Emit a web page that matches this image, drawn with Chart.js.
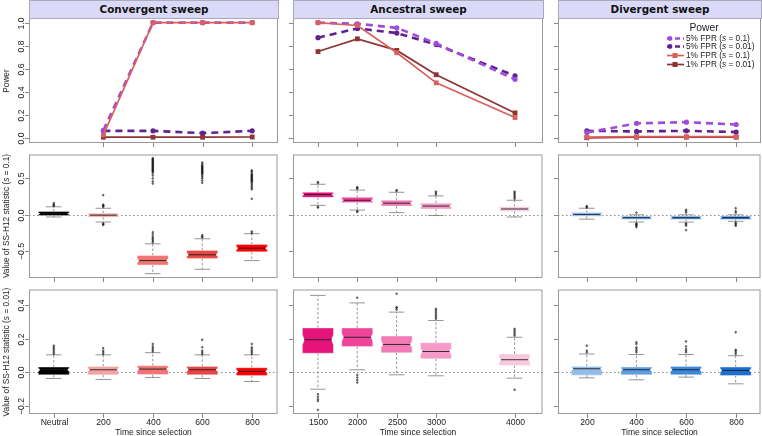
<!DOCTYPE html>
<html><head><meta charset="utf-8">
<script src="https://cdn.jsdelivr.net/npm/chart.js@4/dist/chart.umd.min.js"></script>
<style>
html,body{margin:0;padding:0;background:#fff;width:762px;height:436px;overflow:hidden;position:relative;font-family:"Liberation Sans",Arial,sans-serif;color:#222}
canvas{position:absolute}
.strip{position:absolute;top:0;height:19px;background:#DADAF8;border:1px solid #a9a9b8;box-sizing:border-box;font:bold 10.4px "DejaVu Sans",sans-serif;text-align:center;line-height:17px;color:#111}
.rot{position:absolute;white-space:nowrap;font-size:8.3px;line-height:1;transform:translate(-50%,-50%) rotate(-90deg);color:#222}
.xt{position:absolute;white-space:nowrap;font-size:8.5px;line-height:1;transform:translate(-50%,-50%);color:#222}
.lg{position:absolute;white-space:nowrap;font-size:8.3px;line-height:1;color:#222}
.lg svg{position:absolute;left:0;top:-4px}
</style>
</head><body>
<script>
// ================= DATA =================
const panelTitles = ['Convergent sweep', 'Ancestral sweep', 'Divergent sweep'];
const convCategories = ['Neutral', '200', '400', '600', '800'];
const ancTimes = [1500, 2000, 2500, 3000, 4000];
const divCategories = ['200', '400', '600', '800'];
const xAxisTitle = 'Time since selection';
const yTitles = ['Power', 'Value of SS-H12 statistic (<i>s</i> = 0.1)', 'Value of SS-H12 statistic (<i>s</i> = 0.01)'];

const powerTicks = [0, 0.2, 0.4, 0.6, 0.8, 1.0];
const powerTickLabels = ['0.0', '0.2', '0.4', '0.6', '0.8', '1.0'];
const s01Ticks = [-0.5, 0, 0.5];
const s01TickLabels = ['\u22120.5', '0.0', '0.5'];
const s001Ticks = [-0.2, 0, 0.2, 0.4];
const s001TickLabels = ['\u22120.2', '0.0', '0.2', '0.4'];

const seriesNames = ['5% FPR (s = 0.1)', '5% FPR (s = 0.01)', '1% FPR (s = 0.1)', '1% FPR (s = 0.01)'];

// Power (top row)
const convPow5s01  = [null, 0.07, 1.00, 1.00, 1.00];
const convPow5s001 = [null, 0.065, 0.065, 0.045, 0.065];
const convPow1s01  = [null, 0.03, 1.00, 1.00, 1.00];
const convPow1s001 = [null, 0.01, 0.01, 0.01, 0.012];

const ancPow5s01  = [1.00, 0.99, 0.955, 0.82, 0.51];
const ancPow5s001 = [0.87, 0.95, 0.91, 0.81, 0.54];
const ancPow1s01  = [1.00, 0.975, 0.74, 0.48, 0.18];
const ancPow1s001 = [0.75, 0.86, 0.76, 0.55, 0.22];

const divPow5s01  = [0.05, 0.13, 0.14, 0.12];
const divPow5s001 = [0.065, 0.06, 0.065, 0.055];
const divPow1s01  = [0.01, 0.015, 0.015, 0.015];
const divPow1s001 = [0.005, 0.01, 0.01, 0.01];

// Box statistics [lower whisker, Q1, median, Q3, upper whisker]
const convBoxS01 = [
  [-0.03, -0.01, 0.015, 0.045, 0.11],
  [-0.10, -0.03, -0.005, 0.02, 0.09],
  [-0.81, -0.69, -0.63, -0.56, -0.40],
  [-0.75, -0.60, -0.55, -0.49, -0.33],
  [-0.63, -0.51, -0.46, -0.41, -0.26]
];
const convOutS01 = [
  [0.12, 0.13, 0.14, 0.16],
  [0.11, 0.12, 0.13, 0.14, 0.27, -0.12, -0.13, -0.14],
  [0.43, 0.46, 0.50, 0.54, 0.57, 0.59, 0.60, 0.61, 0.62, 0.63, 0.64, 0.65, 0.66, 0.67, 0.68, 0.69, 0.70, 0.71, 0.72, 0.73, 0.74, 0.75, 0.76, 0.77, 0.78, -0.24, -0.27, -0.30, -0.32, -0.34, -0.36, -0.38],
  [0.44, 0.47, 0.50, 0.52, 0.54, 0.56, 0.57, 0.58, 0.59, 0.60, 0.61, 0.62, 0.63, 0.64, 0.65, 0.66, 0.67, 0.68, 0.70, 0.72, -0.28, -0.30, -0.31],
  [0.22, 0.35, 0.37, 0.39, 0.41, 0.43, 0.45, 0.46, 0.47, 0.48, 0.49, 0.50, 0.51, 0.52, 0.53, 0.54, 0.55, 0.56, 0.58, 0.60, 0.61, -0.23, -0.25]
];
const ancBoxS01 = [
  [0.13, 0.24, 0.28, 0.31, 0.42],
  [0.065, 0.17, 0.20, 0.24, 0.34],
  [0.03, 0.12, 0.16, 0.20, 0.31],
  [-0.01, 0.08, 0.12, 0.16, 0.26],
  [-0.03, 0.05, 0.08, 0.11, 0.20]
];
const ancOutS01 = [
  [0.44, 0.45, 0.11, 0.10],
  [0.36, 0.37, 0.38, 0.05, 0.04],
  [0.33, 0.34],
  [0.28, 0.30, 0.32],
  [0.22, 0.24, 0.26, 0.28, 0.30, 0.32]
];
const divBoxS01 = [
  [-0.06, -0.02, 0.005, 0.03, 0.09],
  [-0.10, -0.06, -0.04, -0.02, 0.0],
  [-0.10, -0.06, -0.04, -0.02, 0.0],
  [-0.09, -0.06, -0.04, -0.02, 0.0]
];
const divOutS01 = [
  [0.10, 0.11, 0.12],
  [0.03, -0.12, -0.13, -0.14, -0.15, -0.17],
  [0.03, 0.05, 0.07, -0.12, -0.13, -0.15, -0.21],
  [0.03, 0.05, 0.09, -0.11, -0.12, -0.14, -0.15]
];
const convBoxS001 = [
  [-0.036, -0.014, 0.016, 0.032, 0.105],
  [-0.042, -0.014, 0.016, 0.036, 0.105],
  [-0.030, -0.012, 0.020, 0.040, 0.118],
  [-0.036, -0.014, 0.016, 0.036, 0.105],
  [-0.054, -0.018, 0.006, 0.028, 0.105]
];
const convOutS001 = [
  [0.11, 0.12, 0.13, 0.14, 0.15, 0.16],
  [0.11, 0.12, 0.13, 0.145],
  [0.125, 0.135, 0.145, 0.155, 0.17],
  [0.11, 0.12, 0.13, 0.15, 0.195],
  [0.11, 0.12, 0.13, 0.14, 0.15, 0.17]
];
const ancBoxS001 = [
  [-0.10, 0.115, 0.195, 0.265, 0.46],
  [0.016, 0.155, 0.21, 0.265, 0.415],
  [-0.014, 0.118, 0.167, 0.217, 0.36],
  [-0.02, 0.082, 0.125, 0.177, 0.31],
  [-0.034, 0.042, 0.076, 0.11, 0.21]
];
const ancOutS001 = [
  [-0.13, -0.145, -0.16, -0.17, -0.223],
  [0.446, -0.015, -0.03, -0.045, -0.06],
  [0.375, 0.385, 0.39, 0.47],
  [0.32, 0.33, 0.34, 0.35, 0.36, 0.37, 0.38],
  [0.22, 0.23, 0.24, 0.25, 0.26, -0.103]
];
const divBoxS001 = [
  [-0.032, -0.016, 0.022, 0.036, 0.11],
  [-0.044, -0.014, 0.016, 0.032, 0.107],
  [-0.028, -0.014, 0.016, 0.036, 0.107],
  [-0.068, -0.018, 0.012, 0.032, 0.10]
];
const divOutS001 = [
  [0.12, 0.13, 0.16],
  [0.12, 0.13, 0.14, 0.15, 0.17, 0.18],
  [0.12, 0.13, 0.14, 0.155, 0.185],
  [0.11, 0.12, 0.13, 0.135, 0.24]
];
const nSims = 60; // sample size used for notch width

// ================= STYLE / LAYOUT =================
const convColors = ['#000000', '#F4A3A3', '#F07575', '#E84545', '#FF0000'];
const ancColors = ['#E5137B', '#EF4499', '#F27BB6', '#F59BC8', '#F9C8DF'];
const divColors = ['#92BDEB', '#5E9DE3', '#3C88DD', '#1A6FD2'];
const seriesStyles = [
  {color: '#A04BDB', dash: [7, 5], point: 'circle', width: 2.6, radius: 2.6, order: 1},
  {color: '#5E2390', dash: [7, 5], point: 'circle', width: 2.6, radius: 2.6, order: 1},
  {color: '#D9605C', dash: [], point: 'rect', width: 1.7, radius: 3.4, order: 0},
  {color: '#8E3434', dash: [], point: 'rect', width: 1.7, radius: 3.4, order: 0}
];
const COLS = [[29, 278], [293, 543], [558, 761]];
const ROWS = [[18, 143], [154, 278], [289, 414]];
const PAD = {left: 30, top: 4, right: 4, bottom: 22};
const BOX_HALF = 15.5, NOTCH_FRAC = 0.88;
const TICK_FONT = '8.6px "Liberation Sans", Arial, sans-serif';

const colSpecs = [
  {xmin: 0.5, xmax: 5.52, pos: convCategories.map((c, i) => i + 1), labels: convCategories, topPos: [2, 3, 4, 5]},
  {xmin: 1183, xmax: 4355, pos: ancTimes, labels: ancTimes.map(String), topPos: ancTimes},
  {xmin: 0.42, xmax: 4.5, pos: divCategories.map((c, i) => i + 1), labels: divCategories, topPos: [1, 2, 3, 4]}
];
const rowSpecs = [
  {ymin: -0.04, ymax: 1.04, ticks: powerTicks, labels: powerTickLabels},
  {ymin: -0.87, ymax: 0.83, ticks: s01Ticks, labels: s01TickLabels},
  {ymin: -0.248, ymax: 0.495, ticks: s001Ticks, labels: s001TickLabels}
];

const powerData = [
  [convPow5s01, convPow5s001, convPow1s01, convPow1s001],
  [ancPow5s01, ancPow5s001, ancPow1s01, ancPow1s001],
  [divPow5s01, divPow5s001, divPow1s01, divPow1s001]
];
const boxData = [
  [[convBoxS01, convOutS01], [ancBoxS01, ancOutS01], [divBoxS01, divOutS01]],
  [[convBoxS001, convOutS001], [ancBoxS001, ancOutS001], [divBoxS001, divOutS001]]
];
const boxColors = [convColors, ancColors, divColors];

// ================= DRAWING =================
function drawBox(ctx, xs, ys, pos, st, color) {
  const [lo, q1, med, q3, hi] = st;
  const cx = xs.getPixelForValue(pos);
  const P = v => ys.getPixelForValue(v);
  const nh = 1.58 * (q3 - q1) / Math.sqrt(nSims);
  const w = BOX_HALF, wi = BOX_HALF * NOTCH_FRAC, wc = BOX_HALF / 2;
  ctx.strokeStyle = '#7a7a7a'; ctx.lineWidth = 0.8;
  ctx.setLineDash([2.5, 2]);
  ctx.beginPath();
  ctx.moveTo(cx, P(q3)); ctx.lineTo(cx, P(hi));
  ctx.moveTo(cx, P(q1)); ctx.lineTo(cx, P(lo));
  ctx.stroke();
  ctx.setLineDash([]);
  ctx.beginPath();
  ctx.moveTo(cx - wc, P(hi)); ctx.lineTo(cx + wc, P(hi));
  ctx.moveTo(cx - wc, P(lo)); ctx.lineTo(cx + wc, P(lo));
  ctx.stroke();
  ctx.beginPath();
  ctx.moveTo(cx - w, P(q3)); ctx.lineTo(cx + w, P(q3));
  ctx.lineTo(cx + w, P(med + nh)); ctx.lineTo(cx + wi, P(med)); ctx.lineTo(cx + w, P(med - nh));
  ctx.lineTo(cx + w, P(q1)); ctx.lineTo(cx - w, P(q1));
  ctx.lineTo(cx - w, P(med - nh)); ctx.lineTo(cx - wi, P(med)); ctx.lineTo(cx - w, P(med + nh));
  ctx.closePath();
  ctx.fillStyle = color; ctx.fill();
  ctx.strokeStyle = 'rgba(255,255,255,0.45)'; ctx.lineWidth = 0.8; ctx.stroke();
  ctx.strokeStyle = 'rgba(25,25,25,0.85)'; ctx.lineWidth = 1.0;
  ctx.beginPath(); ctx.moveTo(cx - wi, P(med)); ctx.lineTo(cx + wi, P(med)); ctx.stroke();
}

function panelPlugin(spec) {
  return {
    id: 'panel' + spec.key,
    beforeDatasetsDraw(chart) {
      const {ctx, chartArea: a, scales: {x, y}} = chart;
      ctx.save();
      if (spec.zero) {
        const py = Math.round(y.getPixelForValue(0)) + 0.5;
        ctx.strokeStyle = '#8a8a8a'; ctx.lineWidth = 1; ctx.setLineDash([1.5, 2.5]);
        ctx.beginPath(); ctx.moveTo(a.left, py); ctx.lineTo(a.right, py); ctx.stroke();
        ctx.setLineDash([]);
      }
      if (spec.boxes) spec.boxes.forEach((st, i) => drawBox(ctx, x, y, spec.boxPos[i], st, spec.colors[i]));
      ctx.restore();
    },
    afterDraw(chart) {
      const {ctx, chartArea: a, scales: {x, y}} = chart;
      ctx.save();
      ctx.strokeStyle = '#9a9a9a'; ctx.lineWidth = 1;
      ctx.strokeRect(a.left + 0.5, a.top + 0.5, a.right - a.left - 1, a.bottom - a.top - 1);
      ctx.strokeStyle = '#888'; ctx.fillStyle = '#222'; ctx.font = TICK_FONT;
      ctx.textAlign = 'center'; ctx.textBaseline = 'middle';
      spec.yTicks.forEach((v, i) => {
        const py = Math.round(y.getPixelForValue(v)) + 0.5;
        ctx.beginPath(); ctx.moveTo(a.left - 4, py); ctx.lineTo(a.left, py); ctx.stroke();
        if (spec.yLabels) {
          ctx.save(); ctx.translate(a.left - 7.5, py); ctx.rotate(-Math.PI / 2);
          ctx.fillText(spec.yLabels[i], 0, 0); ctx.restore();
        }
      });
      spec.xTicks.forEach((v, i) => {
        const px = Math.round(x.getPixelForValue(v)) + 0.5;
        ctx.beginPath(); ctx.moveTo(px, a.bottom); ctx.lineTo(px, a.bottom + 4); ctx.stroke();
        if (spec.xLabels) ctx.fillText(spec.xLabels[i], px, a.bottom + 9);
      });
      ctx.restore();
    }
  };
}

function makeCanvas(ci, ri) {
  const [l, r] = COLS[ci], [t, b] = ROWS[ri];
  const c = document.createElement('canvas');
  c.width = (r - l) + PAD.left + PAD.right;
  c.height = (b - t) + PAD.top + PAD.bottom;
  c.style.left = (l - PAD.left) + 'px'; c.style.top = (t - PAD.top) + 'px';
  c.style.width = c.width + 'px'; c.style.height = c.height + 'px';
  document.body.appendChild(c);
  return c;
}

function baseOptions(cs, rs) {
  return {
    responsive: false, animation: false, devicePixelRatio: 1, events: [],
    layout: {padding: PAD},
    plugins: {legend: {display: false}, tooltip: {enabled: false}},
    scales: {
      x: {type: 'linear', display: false, min: cs.xmin, max: cs.xmax},
      y: {type: 'linear', display: false, min: rs.ymin, max: rs.ymax}
    }
  };
}

for (let ci = 0; ci < 3; ci++) {
  const cs = colSpecs[ci];
  for (let ri = 0; ri < 3; ri++) {
    const rs = rowSpecs[ri];
    const canvas = makeCanvas(ci, ri);
    let datasets, spec;
    if (ri === 0) {
      datasets = powerData[ci].map((vals, si) => {
        const st = seriesStyles[si];
        return {
          label: seriesNames[si],
          data: vals.map((v, i) => v == null ? null : {x: cs.pos[i], y: v}).filter(Boolean),
          showLine: true, borderColor: st.color, backgroundColor: st.color,
          borderDash: st.dash, borderWidth: st.width, pointStyle: st.point,
          pointRadius: st.radius, pointBorderWidth: 0, pointBackgroundColor: st.color,
          order: st.order, tension: 0, clip: 6
        };
      });
      spec = {key: ci + '_' + ri, zero: false, yTicks: rs.ticks, yLabels: ci === 0 ? rs.labels : null, xTicks: cs.topPos, xLabels: null};
    } else {
      const [boxes, outs] = boxData[ri - 1][ci];
      const pts = [];
      outs.forEach((list, i) => list.forEach(v => pts.push({x: cs.pos[i], y: v})));
      datasets = [{
        label: 'outliers', data: pts, pointRadius: 0.9, pointBorderWidth: 0.5,
        pointBorderColor: 'rgba(20,20,20,0.85)', pointBackgroundColor: 'rgba(40,40,40,0.6)', clip: 6
      }];
      spec = {key: ci + '_' + ri, zero: true, boxes, boxPos: cs.pos, colors: boxColors[ci],
        yTicks: rs.ticks, yLabels: ci === 0 ? rs.labels : null, xTicks: cs.pos, xLabels: ri === 2 ? cs.labels : null};
    }
    new Chart(canvas, {type: 'scatter', data: {datasets}, options: baseOptions(cs, rs), plugins: [panelPlugin(spec)]});
  }
}

// ================= HTML TEXT =================
function addDiv(cls, html, css) {
  const d = document.createElement('div');
  d.className = cls; d.innerHTML = html;
  Object.assign(d.style, css);
  document.body.appendChild(d);
  return d;
}
panelTitles.forEach((t, ci) => {
  const [l, r] = COLS[ci];
  addDiv('strip', t, {left: l + 'px', width: (r - l + 1) + 'px'});
  addDiv('xt', xAxisTitle, {left: ((l + r) / 2) + 'px', top: '432px'});
});
const yTitleY = [80.5, 216, 351.5];
yTitles.forEach((t, ri) => addDiv('rot', t, {left: '6px', top: yTitleY[ri] + 'px'}));

// Legend (top-right panel)
addDiv('lg', 'Power', {left: '704px', top: '28px', fontSize: '10.3px', transform: 'translate(-50%,-50%)'});
const legendY = [37.7, 46.4, 55.1, 63.8];
seriesNames.forEach((n, si) => {
  const st = seriesStyles[si];
  const mark = st.point === 'rect'
    ? `<rect x="5.5" y="2" width="5" height="5" fill="${st.color}"/>`
    : `<circle cx="3" cy="4.5" r="2.4" fill="${st.color}"/>`;
  const dash = st.dash.length ? `stroke-dasharray="5,3"` : '';
  const svg = `<svg width="17" height="9"><line x1="0" y1="4.5" x2="17" y2="4.5" stroke="${st.color}" stroke-width="${st.width}" ${dash}/>${mark}</svg>`;
  const label = n.replace('s =', '<i>s</i> =');
  addDiv('lg', svg + `<span style="position:absolute;left:19px;top:-4px">${label}</span>`, {left: '667px', top: legendY[si] + 'px'});
});
</script>
</body></html>
